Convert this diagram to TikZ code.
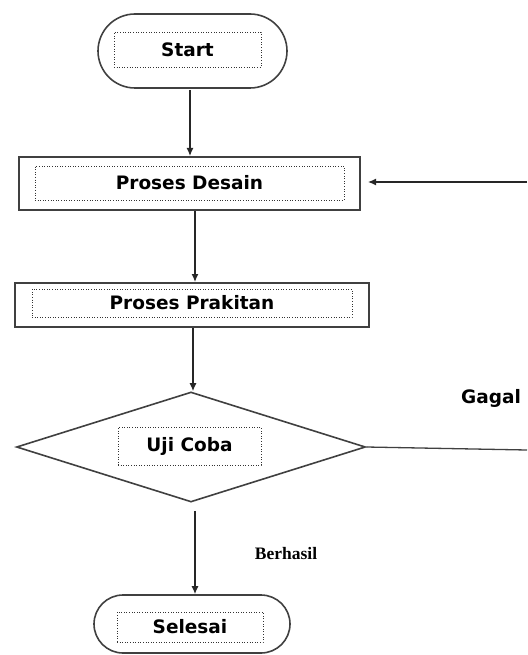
\documentclass[tikz,border=0pt]{standalone}
\usepackage{fontspec}
\setmainfont{DejaVu Sans}
\newfontfamily\serifb{Liberation Serif}
\usetikzlibrary{arrows.meta,shapes.geometric}
\definecolor{edge}{HTML}{404040}
\tikzset{
  outer/.style={draw=edge, line width=1.6pt, inner sep=0pt},
  boxout/.style={draw=edge, line width=2pt, inner sep=0pt},
  inbox/.style={draw=black!80, dotted, line width=0.6pt, inner sep=0pt, font=\bfseries\fontsize{18.5}{22}\selectfont},
  arr/.style={draw=black!85, line width=1.3pt, -{Latex[length=8pt,width=7pt]}},
  plain/.style={draw=edge, line width=1.3pt},
  lbl/.style={inner sep=0pt, font=\bfseries\fontsize{18.5}{22}\selectfont}
}
\begin{document}
\begin{tikzpicture}[x=1pt,y=-1pt]
\useasboundingbox (0,0) rectangle (527,655);
% shapes
\node[outer, rounded corners=37pt, minimum width=189pt, minimum height=74pt] (start) at (192.5,51) {};
\node[inbox, minimum width=147pt, minimum height=35pt] (startt) at (187.5,49.5) {Start};

\node[boxout, minimum width=341pt, minimum height=53pt] (desain) at (189.5,183.5) {};
\node[inbox, minimum width=309pt, minimum height=34pt] (desaint) at (189.5,183) {Proses Desain};

\node[boxout, minimum width=354pt, minimum height=44pt] (prak) at (192,305) {};
\node[inbox, minimum width=320pt, minimum height=28pt] (prakt) at (192,303) {Proses Prakitan};

\node[outer, diamond, minimum width=349pt, minimum height=110pt] (uji) at (191,447) {};
\node[inbox, minimum width=143pt, minimum height=38pt] (ujit) at (189.5,446) {Uji Coba};

\node[outer, rounded corners=29pt, minimum width=196pt, minimum height=58pt] (selesai) at (192,624) {};
\node[inbox, minimum width=146pt, minimum height=30pt] (selesait) at (190,627) {Selesai};

% labels
\node[lbl] (gagal) at (491,398) {Gagal};
\node[lbl, font=\serifb\bfseries\fontsize{17.5}{20}\selectfont] (berhasil) at (286,554) {Berhasil};

% connectors
\coordinate (fbin) at (527,182);
\coordinate (gout) at (527,450);
\draw[arr] ([xshift=-2.5pt,yshift=-1pt]start.south) -- ([xshift=-2.5pt]start.south |- desain.north);
\draw[arr] ([xshift=5.5pt]desain.south) -- ([xshift=5.5pt]desain.south |- prak.north);
\draw[arr] ([xshift=1pt]prak.south) -- ([xshift=1pt]prak.south |- uji.north);
\draw[arr] ([xshift=4pt,yshift=-8pt]uji.south) -- ([xshift=4pt]uji.south |- selesai.north);
\draw[arr] (fbin) -- ([xshift=7pt]desain.east |- fbin);
\draw[plain] (uji.east) -- (gout);
\end{tikzpicture}
\end{document}
